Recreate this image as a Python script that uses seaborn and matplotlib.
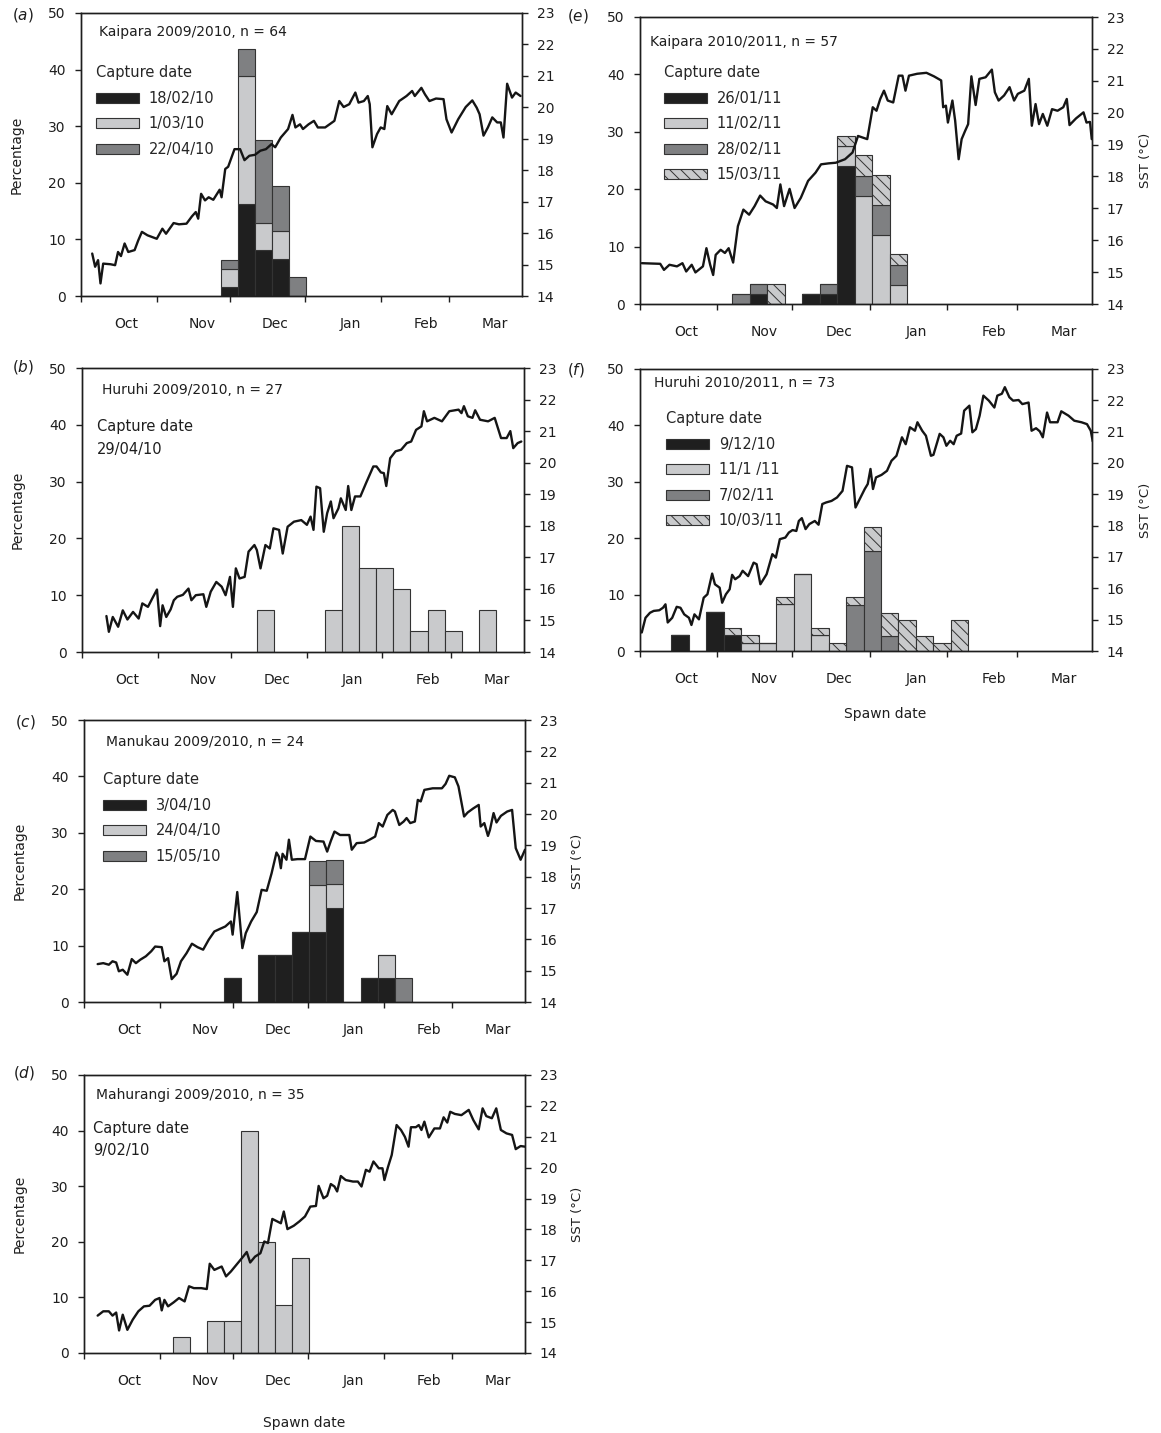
import numpy as np
import pandas as pd
import matplotlib
matplotlib.use('Agg')
import matplotlib.pyplot as plt
from matplotlib.patches import Patch
import seaborn as sns

sns.set_theme(style='ticks')
plt.rcParams['font.family'] = ['DejaVu Sans']
plt.rcParams['hatch.linewidth'] = 0.7

# Month ticks (days after 1 October), labels sit in the middle of each month
month_names = ['Oct', 'Nov', 'Dec', 'Jan', 'Feb', 'Mar']
month_start = [0, 31, 61, 92, 123, 151]

# ---- (a) Kaipara 2009/2010 ----
a_bins = [57.5, 64.5, 71.5, 78.5, 85.5]
a_capture = ['18/02/10', '1/03/10', '22/04/10']
a_pct = [[1.6, 16.2, 8.1, 6.5, 0.0],
         [3.1, 22.6, 4.8, 4.9, 0.0],
         [1.6, 4.9, 14.6, 8.1, 3.3]]
a_sst_day = [4.6, 5.8, 7, 8, 9.1, 12.1, 14, 15.2, 16.4, 17.9, 19.4, 22, 23.5, 25, 27.3, 31.1, 33.4,
             34.9, 38, 40.2, 43.3, 45.5, 47.1, 48.1, 49.3, 50.9, 52.4, 54.3, 56.9, 57.7, 59.2, 60.4,
             63, 65.3, 67.1, 69.1, 71.4, 73.6, 75.9, 78.2, 79.7, 82, 85, 86.8, 88, 89.9, 91.1, 93.4,
             95.6, 97.2, 100.2, 104, 106, 107.8, 110.1, 112.6, 113.9, 116.1, 117.7, 118.5, 119.6,
             121.5, 123, 124.5, 125.7, 127.5, 130.6, 133.6, 135.9, 137, 139.7, 141.2, 143, 145.7,
             148.8, 150, 152.1, 154.8, 157.9, 160.6, 162.4, 163.6, 165.2, 167, 168.8, 170.8, 172.3,
             173.4, 174.9, 176.9, 178.4, 180.4]
a_sst = [15.35, 14.93, 15.14, 14.4, 15.03, 15.01, 14.98, 15.4, 15.27, 15.67, 15.4, 15.46, 15.77,
         16.04, 15.93, 15.82, 16.14, 15.98, 16.32, 16.28, 16.3, 16.53, 16.67, 16.46, 17.25, 17.04,
         17.14, 17.06, 17.38, 17.14, 18.04, 18.11, 18.67, 18.67, 18.32, 18.46, 18.49, 18.62, 18.67,
         18.83, 18.73, 19.04, 19.31, 19.76, 19.36, 19.46, 19.31, 19.46, 19.57, 19.36, 19.36, 19.57,
         20.2, 20.01, 20.1, 20.47, 20.15, 20.2, 20.36, 20.1, 18.73, 19.15, 19.36, 19.31, 20.04,
         19.78, 20.2, 20.36, 20.52, 20.36, 20.62, 20.41, 20.2, 20.28, 20.26, 19.62, 19.2, 19.62,
         20.01, 20.22, 19.99, 19.78, 19.1, 19.36, 19.68, 19.52, 19.52, 19.04, 20.75, 20.31, 20.47,
         20.36]

# ---- (b) Huruhi 2009/2010 ----
b_bins = [71.5, 99.5, 106.5, 113.5, 120.5, 127.5, 134.5, 141.5, 148.5, 162.5]
b_capture = ['29/04/10']
b_pct = [[7.4, 7.4, 22.2, 14.8, 14.8, 11.1, 3.7, 7.4, 3.7, 7.4]]
b_sst_day = [10, 11, 12.6, 14.8, 16.7, 18.6, 20.9, 23.2, 24.7, 27, 28.8, 30.7, 32, 33, 34.5, 36.3,
             37.6, 39, 41.3, 43.6, 44.8, 46.6, 49.7, 50.9, 52.7, 55, 57.2, 58.8, 60.6, 61.8, 63,
             64.5, 66.6, 68.2, 70.6, 71.6, 73.1, 75.1, 76.9, 78.4, 80.7, 82.2, 84.2, 86.8, 89.8,
             92.1, 93.6, 94.8, 96, 97.5, 99, 100.4, 101.9, 103, 105, 106, 108, 109, 110.3, 111.8,
             114, 116.3, 119.3, 120.6, 122.4, 123.6, 124.6, 126.2, 128.4, 130.7, 133, 134.8, 136.8,
             139, 140, 141.3, 144.3, 147.4, 150.4, 154.2, 155.4, 156.4, 158, 159.9, 161, 163, 166.3,
             169, 171.6, 173.9, 175.4, 176.6, 178.4, 179.9]
b_sst = [15.14, 14.64, 15.11, 14.8, 15.32, 15.03, 15.27, 15.06, 15.54, 15.43, 15.7, 15.98, 14.82,
         15.48, 15.11, 15.35, 15.64, 15.75, 15.81, 16.01, 15.64, 15.8, 15.83, 15.43, 15.91, 16.22,
         16.07, 15.8, 16.38, 15.43, 16.65, 16.33, 16.38, 17.18, 17.39, 17.23, 16.65, 17.39, 17.28,
         17.92, 17.87, 17.12, 17.97, 18.13, 18.18, 18.03, 18.29, 17.87, 19.24, 19.19, 17.81, 18.4,
         18.77, 18.24, 18.55, 18.87, 18.5, 19.26, 18.5, 18.93, 18.93, 19.35, 19.88, 19.88, 19.69,
         19.67, 19.26, 20.14, 20.36, 20.41, 20.62, 20.67, 21.04, 21.15, 21.63, 21.31, 21.42, 21.31,
         21.63, 21.68, 21.57, 21.79, 21.47, 21.42, 21.66, 21.36, 21.31, 21.42, 20.78, 20.78, 21.0,
         20.46, 20.62, 20.67]

# ---- (c) Manukau 2009/2010 ----
c_bins = [57.5, 71.5, 78.5, 85.5, 92.5, 99.5, 113.5, 120.5, 127.5]
c_capture = ['3/04/10', '24/04/10', '15/05/10']
c_pct = [[4.2, 8.3, 8.3, 12.5, 12.5, 16.7, 4.2, 4.2, 0.0],
         [0.0, 0.0, 0.0, 0.0, 8.3, 4.2, 0.0, 4.2, 0.0],
         [0.0, 0.0, 0.0, 0.0, 4.2, 4.2, 0.0, 0.0, 4.2]]
c_sst_day = [5.6, 7.9, 10.2, 11.7, 13.2, 14.3, 15.9, 17.8, 19.6, 21.3, 23.1, 25.4, 27.6, 29.2,
             31.9, 33, 34.5, 36, 38, 39.8, 42.1, 44.3, 46.6, 48.9, 51.2, 53.5, 55.7, 58, 60.3, 61,
             62.9, 65, 66.4, 68.6, 70.9, 72.9, 75, 77, 79, 80, 80.8, 81.5, 83.1, 84.1, 85.3, 87.6,
             90.7, 92.9, 95.2, 98.3, 99.8, 101.3, 102.8, 105.1, 108.9, 109.9, 111.9, 115, 117.2,
             119.5, 121, 122.6, 124.5, 126.7, 127.6, 129.4, 131.2, 132.4, 133.9, 135.8, 137, 138.2,
             139.7, 143.1, 146.9, 148.4, 149.9, 152.2, 153.7, 156, 157.5, 159.8, 162, 162.8, 164.3,
             165.8, 166.6, 168.1, 169.3, 171.1, 173.7, 175.7, 177.2, 179.2, 181]
c_sst = [15.21, 15.24, 15.19, 15.3, 15.26, 14.98, 15.03, 14.87, 15.37, 15.24, 15.35, 15.46, 15.62,
         15.77, 15.75, 15.3, 15.4, 14.73, 14.9, 15.3, 15.56, 15.86, 15.75, 15.67, 15.99, 16.25,
         16.33, 16.41, 16.57, 16.15, 17.51, 15.72, 16.2, 16.57, 16.87, 17.58, 17.55, 18.11, 18.77,
         18.64, 18.27, 18.73, 18.54, 19.18, 18.54, 18.56, 18.56, 19.28, 19.14, 19.12, 18.8, 19.14,
         19.44, 19.33, 19.33, 18.86, 19.07, 19.09, 19.18, 19.28, 19.71, 19.6, 19.97, 20.13, 20.08,
         19.65, 19.76, 19.87, 19.71, 19.76, 20.45, 20.4, 20.77, 20.82, 20.82, 20.96, 21.22, 21.17,
         20.88, 19.92, 20.05, 20.18, 20.29, 19.6, 19.71, 19.3, 19.49, 20.03, 19.73, 19.94, 20.08,
         20.13, 18.91, 18.54, 18.86]

# ---- (d) Mahurangi 2009/2010 ----
d_bins = [36.5, 50.5, 57.5, 64.5, 71.5, 78.5, 85.5]
d_capture = ['9/02/10']
d_pct = [[2.9, 5.7, 5.7, 40.0, 20.0, 8.6, 17.1]]
d_sst_day = [5.6, 7.9, 10.2, 11.7, 13.2, 14.4, 15.9, 17.8, 20, 22.3, 24.6, 26.9, 29.2, 31, 31.9,
             33, 34.5, 36.8, 39, 41.3, 43.1, 45.1, 48.1, 50.4, 51.6, 53.5, 56.5, 58.3, 60.3, 62.6,
             64.8, 66.8, 68.2, 70.2, 72.4, 74, 75.5, 77.3, 79.3, 80.8, 82, 83.5, 86.1, 88.4, 90.7,
             92.9, 95.2, 96.3, 98.3, 99.8, 101.3, 102.8, 103.9, 105.4, 107.4, 110.4, 112.4, 113.9,
             115.7, 117.2, 118.8, 121, 122.5, 123.3, 124.8, 126.3, 128.3, 130.1, 131.7, 133.2, 134.2,
             136.2, 137.4, 138.5, 139.7, 141.5, 143.8, 146.1, 147.6, 149.1, 150.3, 152.2, 154.9,
             157.9, 159.8, 162, 163.6, 165.1, 167.4, 169.2, 171.1, 173.4, 175.7, 177.2, 179.2, 181]
d_sst = [15.21, 15.35, 15.35, 15.21, 15.31, 14.73, 15.24, 14.75, 15.08, 15.35, 15.51, 15.53, 15.72,
         15.78, 15.38, 15.72, 15.51, 15.64, 15.78, 15.67, 16.16, 16.1, 16.1, 16.07, 16.89, 16.69,
         16.8, 16.48, 16.64, 16.86, 17.07, 17.27, 16.93, 17.12, 17.23, 17.61, 17.56, 18.34, 18.26,
         18.2, 18.58, 18.01, 18.12, 18.26, 18.42, 18.74, 18.76, 19.41, 19.01, 19.09, 19.47, 19.39,
         19.23, 19.73, 19.6, 19.55, 19.55, 19.39, 19.93, 19.87, 20.2, 19.98, 19.98, 19.6, 20.03,
         20.41, 21.38, 21.22, 21.0, 20.68, 21.31, 21.31, 21.38, 21.22, 21.49, 20.98, 21.27, 21.27,
         21.63, 21.46, 21.81, 21.74, 21.7, 21.87, 21.54, 21.24, 21.92, 21.67, 21.6, 21.92, 21.22,
         21.11, 21.06, 20.6, 20.7, 20.68]

# ---- (e) Kaipara 2010/2011 ----
e_bins = [37, 44, 51, 65, 72, 79, 86, 93, 100]
e_capture = ['26/01/11', '11/02/11', '28/02/11', '15/03/11']
e_pct = [[0.0, 1.75, 0.0, 1.75, 1.75, 24.1, 0.0, 0.0, 0.0],
         [0.0, 0.0, 0.0, 0.0, 0.0, 3.5, 18.8, 12.0, 3.3],
         [1.75, 1.75, 0.0, 0.0, 1.75, 0.0, 3.5, 5.2, 3.5],
         [0.0, 0.0, 3.5, 0.0, 0.0, 1.75, 3.7, 5.2, 1.9]]
e_sst_day = [0.7, 8.1, 9.6, 11.8, 14.8, 17, 18.5, 20.7, 22.2, 25.2, 26.6, 28.1, 29.3, 30.3, 32.3,
             34, 35.5, 37.3, 39.2, 41.4, 43.7, 45.9, 48.1, 50.3, 53.3, 54.8, 56.2, 57.7, 59.9, 61.9,
             64.4, 67.3, 70.3, 72.5, 75.5, 78.4, 82.1, 85.1, 87.3, 91, 93.2, 94.7, 96.2, 97.7, 99.2,
             101.4, 103.6, 105.1, 106.3, 107.7, 111, 114.7, 117.7, 120.6, 121.4, 122.5, 123.3, 125.1,
             126.2, 127.6, 128.8, 130.2, 131.4, 132.7, 134.4, 135.9, 138.4, 140.9, 142.1, 143.6,
             145.8, 148, 149.8, 151.3, 153.9, 155.7, 156.9, 158.4, 159.8, 161.3, 163.1, 165, 167.2,
             169.5, 170.9, 172, 174.6, 177.6, 178.8, 180.2, 180.9]
e_sst = [15.28, 15.26, 15.07, 15.23, 15.18, 15.28, 15.02, 15.23, 14.99, 15.18, 15.75, 15.23, 14.91,
         15.54, 15.7, 15.6, 15.75, 15.3, 16.44, 16.96, 16.8, 17.07, 17.4, 17.22, 17.12, 17.01, 17.75,
         17.07, 17.61, 17.01, 17.33, 17.86, 18.12, 18.38, 18.41, 18.43, 18.54, 18.75, 19.27, 19.17,
         20.17, 20.06, 20.43, 20.69, 20.38, 20.32, 21.16, 21.16, 20.69, 21.16, 21.22, 21.25, 21.14,
         21.01, 20.17, 20.22, 19.69, 20.38, 19.75, 18.54, 19.17, 19.43, 19.64, 21.14, 20.24, 21.06,
         21.11, 21.35, 20.64, 20.38, 20.54, 20.8, 20.38, 20.59, 20.69, 21.06, 19.59, 20.27, 19.64,
         19.96, 19.59, 20.11, 20.06, 20.17, 20.43, 19.61, 19.82, 20.01, 19.69, 19.71, 19.17]

# ---- (f) Huruhi 2010/2011 ----
f_bins = [12.5, 26.5, 33.5, 40.5, 47.5, 54.5, 61.5, 68.5, 75.5, 82.5, 89.5, 96.5, 103.5, 110.5,
          117.5, 124.5]
f_capture = ['9/12/10', '11/1 /11', '7/02/11', '10/03/11']
f_pct = [[2.8, 7.0, 2.8, 0.0, 0.0, 0.0, 0.0, 0.0, 0.0, 0.0, 0.0, 0.0, 0.0, 0.0, 0.0, 0.0],
         [0.0, 0.0, 0.0, 1.4, 1.4, 8.3, 13.7, 2.8, 0.0, 0.0, 0.0, 0.0, 0.0, 0.0, 0.0, 0.0],
         [0.0, 0.0, 0.0, 0.0, 0.0, 0.0, 0.0, 0.0, 0.0, 8.2, 17.8, 2.7, 0.0, 0.0, 0.0, 0.0],
         [0.0, 0.0, 1.3, 1.4, 0.0, 1.3, 0.0, 1.3, 1.4, 1.4, 4.1, 4.1, 5.5, 2.7, 1.4, 5.5]]
f_sst_day = [0.7, 2.2, 4, 5.5, 7.7, 9.2, 10.2, 11.1, 12.9, 14.7, 16.2, 17.7, 19.6, 20.6, 21.8, 23.6,
             25.5, 27, 28.9, 30, 31.9, 32.9, 34.4, 35.9, 36.9, 38.1, 39.9, 41.1, 43.3, 45.5, 46.7,
             48.2, 50.7, 53, 54.4, 56, 58.2, 59.6, 61.1, 62.6, 63.6, 64.8, 66.3, 67.8, 70, 71.5, 73,
             74.5, 76.7, 78.9, 81.1, 82.9, 84.9, 86.3, 88.3, 90, 91.2, 92.3, 93.3, 94.5, 96.7, 98.9,
             100.7, 102.7, 104.9, 106.4, 108.1, 110.1, 111.1, 113, 114.5, 116.5, 117.5, 119, 120,
             121.5, 122.7, 124.2, 125.6, 126.8, 128.6, 129.8, 131.9, 133.1, 134.5, 136, 137.5,
             139.7, 141.9, 143.1, 144.9, 146.1, 147.9, 149.4, 151.6, 153.1, 155.6, 156.8, 158.6,
             160.1, 161.3, 163, 164.2, 167.2, 168.7, 171.6, 173.9, 176.8, 179, 180.5, 181.3]
f_sst = [14.59, 15.06, 15.22, 15.28, 15.3, 15.38, 15.49, 14.91, 15.06, 15.41, 15.38, 15.17, 15.06,
         14.83, 15.17, 15.01, 15.7, 15.81, 16.47, 16.13, 16.02, 15.54, 15.81, 15.97, 16.43, 16.29,
         16.39, 16.56, 16.39, 16.82, 16.77, 16.13, 16.45, 17.09, 16.98, 17.57, 17.62, 17.78, 17.86,
         17.83, 18.15, 18.24, 17.89, 18.05, 18.15, 18.03, 18.69, 18.74, 18.79, 18.9, 19.11, 19.91,
         19.86, 18.58, 18.9, 19.17, 19.33, 19.81, 19.17, 19.54, 19.62, 19.75, 20.07, 20.23, 20.82,
         20.6, 21.14, 21.03, 21.3, 21.03, 20.87, 20.23, 20.26, 20.66, 20.93, 20.82, 20.55, 20.71,
         20.6, 20.87, 20.94, 21.67, 21.83, 20.98, 21.08, 21.51, 22.15, 21.99, 21.77, 22.15, 22.21,
         22.42, 22.1, 21.99, 22.01, 21.88, 21.93, 21.03, 21.11, 21.01, 20.82, 21.61, 21.3, 21.3,
         21.65, 21.51, 21.35, 21.3, 21.24, 21.03, 20.69]

W, H = 1161, 1433
FS = 10
INK = '#1e1e1e'
# fill / hatch per capture date order: black, light grey, dark grey, hatched
styles = [dict(facecolor='#1f1f1f', hatch=None),
          dict(facecolor='#c9cacc', hatch=None),
          dict(facecolor='#7f8082', hatch=None),
          dict(facecolor='#c9cacc', hatch='\\\\\\')]
single = [styles[1]]


def fx(x):
    return x / W


def fy(y):
    return 1 - y / H


def panel(box, bins, pct, sst_day, sst, bar_styles=styles, left_label=True, right_label=False):
    l, r, t, b = box
    ax = fig.add_axes([fx(l), fy(b), (r - l) / W, (b - t) / H])
    bottom = np.zeros(len(bins))
    for vals, st in zip(pct, bar_styles):
        vals = np.asarray(vals)
        ax.bar(bins, vals, width=7, bottom=bottom, align='edge', color=st['facecolor'],
               edgecolor='#333333', linewidth=0.8, hatch=st['hatch'])
        bottom = bottom + vals
    ax.set_xlim(0, 181)
    ax.set_ylim(0, 50)
    ax.set_yticks(range(0, 51, 10))
    ax.set_xticks(month_start)
    ax.set_xticklabels([])
    ax.set_xticks([m + 18.7 for m in month_start], minor=True)
    ax.set_xticklabels(month_names, minor=True)
    ax.tick_params(axis='x', which='major', direction='out', length=4.5, width=1, color=INK)
    ax.tick_params(axis='x', which='minor', length=0, pad=15, labelsize=FS, labelcolor=INK)
    ax.tick_params(axis='y', direction='out', length=4, width=1, pad=7, labelsize=FS,
                   labelcolor=INK, color=INK)

    ax2 = ax.twinx()
    line = pd.DataFrame({'day': sst_day, 'sst': sst})
    sns.lineplot(data=line, x='day', y='sst', ax=ax2, color='#151515', linewidth=1.7,
                 estimator=None, sort=False)
    ax2.set_ylim(14, 23)
    ax2.set_xlim(0, 181)
    ax2.set_yticks(range(14, 24))
    ax2.tick_params(axis='y', direction='out', length=4.5, width=1, pad=6, labelsize=FS,
                    labelcolor=INK, color=INK)
    ax2.set_xlabel('')
    ax2.set_ylabel('')
    for a in (ax, ax2):
        for s in a.spines.values():
            s.set_visible(True)
            s.set_linewidth(1.0)
            s.set_color(INK)
    if left_label:
        ax.set_ylabel('Percentage', fontsize=FS, color=INK)
        ax.yaxis.set_label_coords(-0.13, 0.5)
    if right_label:
        ax2.set_ylabel('SST (°C)', fontsize=FS - 0.5, color=INK)
        ax2.yaxis.set_label_coords(1.105, 0.5)
    return ax


def legend(ax, labels, x, y):
    handles = [Patch(facecolor=st['facecolor'], edgecolor='#333333', linewidth=0.8,
                     hatch=st['hatch']) for st in styles[:len(labels)]]
    ax.legend(handles, labels, title='Capture date', loc='upper left',
              bbox_to_anchor=(fx(x), fy(y)), bbox_transform=fig.transFigure, frameon=False,
              fontsize=FS + 0.5, title_fontsize=FS + 0.5, alignment='left', borderpad=0,
              handlelength=2.9, handleheight=0.7, handletextpad=0.7, labelspacing=0.72)


def note(x, y, s, size=FS):
    fig.text(fx(x), fy(y), s, ha='left', va='center', fontsize=size, color=INK)


fig = plt.figure(figsize=(W / 100, H / 100), dpi=100)

ax_a = panel((81, 522, 13, 296), a_bins, a_pct, a_sst_day, a_sst)
ax_b = panel((82, 524, 368, 652), b_bins, b_pct, b_sst_day, b_sst, bar_styles=single)
ax_c = panel((84, 525, 720, 1002), c_bins, c_pct, c_sst_day, c_sst, right_label=True)
ax_d = panel((84, 525, 1075, 1353), d_bins, d_pct, d_sst_day, d_sst, bar_styles=single,
             right_label=True)
ax_e = panel((640, 1092, 17, 304), e_bins, e_pct, e_sst_day, e_sst, left_label=False,
             right_label=True)
ax_f = panel((640, 1092, 369, 651), f_bins, f_pct, f_sst_day, f_sst, left_label=False,
             right_label=True)

legend(ax_a, a_capture, 89, 58)
legend(ax_c, c_capture, 96, 765)
legend(ax_e, e_capture, 657, 58)
legend(ax_f, f_capture, 659, 404)

note(99, 32, 'Kaipara 2009/2010, n = 64')
note(650, 42, 'Kaipara 2010/2011, n = 57')
note(102, 390, 'Huruhi 2009/2010, n = 27')
note(654, 383, 'Huruhi 2010/2011, n = 73')
note(106, 742, 'Manukau 2009/2010, n = 24')
note(96, 1095, 'Mahurangi 2009/2010, n = 35')
note(97, 427, 'Capture date', FS + 0.5)
note(97, 449, b_capture[0], FS + 0.5)
note(93, 1128, 'Capture date', FS + 0.5)
note(93, 1150, d_capture[0], FS + 0.5)

for lab, x, y in [('a', 23, 15), ('b', 23, 367), ('c', 25, 722), ('d', 24, 1073),
                  ('e', 578, 16), ('f', 576, 370)]:
    fig.text(fx(x), fy(y), r'($\it{' + lab + '}$)', ha='center', va='center',
             fontsize=FS + 1, color=INK)

ax_f.set_xlabel('Spawn date', fontsize=FS, color=INK)
ax_f.xaxis.set_label_coords(0.542, -0.2)
ax_d.set_xlabel('Spawn date', fontsize=FS, color=INK)
ax_d.xaxis.set_label_coords(0.5, -0.225)

fig.savefig('out.png', dpi=100)
